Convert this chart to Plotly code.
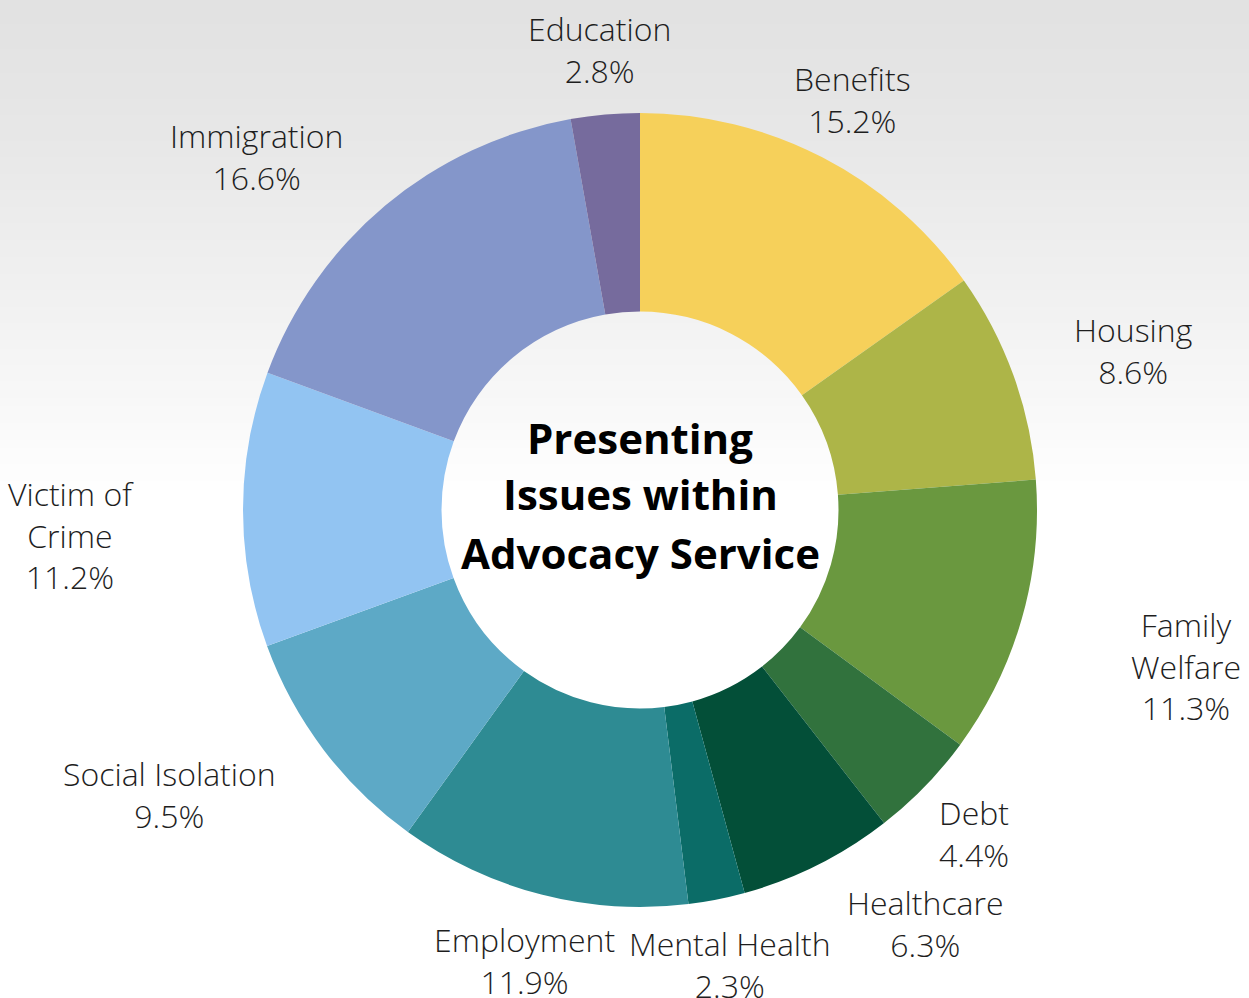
import math
import plotly.graph_objects as go

# ---- data ----
categories = ["Benefits", "Housing", "Family Welfare", "Debt", "Healthcare",
              "Mental Health", "Employment", "Social Isolation", "Victim of Crime",
              "Immigration", "Education"]
label_text = ["Benefits", "Housing", "Family<br>Welfare", "Debt", "Healthcare",
              "Mental Health", "Employment", "Social Isolation", "Victim of<br>Crime",
              "Immigration", "Education"]
values = [15.2, 8.6, 11.3, 4.4, 6.3, 2.3, 11.9, 9.5, 11.2, 16.6, 2.8]

# ---- style ----
colors = ["#F6D05A", "#ADB548", "#6A983F", "#31723D", "#034F38", "#0B6C67",
          "#2E8B93", "#5DA9C6", "#92C4F2", "#8496CA", "#766B9D"]
label_dist = [462, 519, 568, 465, 503, 463, 465, 550, 570, 521, 462]   # px from centre
label_nudge = [0, 2, 0, 0, -8, 0, 0, 6, -2.6, -7.4, 0]                 # degrees

W, H = 1249, 998
CX, CY, R = 640, 510, 397

fig = go.Figure()
fig.add_trace(go.Pie(
    labels=categories, values=values, hole=0.5, sort=False, direction="clockwise",
    rotation=0, textinfo="none", hoverinfo="label+percent",
    marker=dict(colors=colors, line=dict(color="white", width=0)),
    domain=dict(x=[(CX - R) / W, (CX + R) / W], y=[1 - (CY + R) / H, 1 - (CY - R) / H]),
    showlegend=False,
))

# background gradient
shapes = []
n = 60
top = 226
for i in range(n):
    y0 = i / n * 0.5
    y1 = (i + 1) / n * 0.5
    t = (i + 0.5) / n
    c = int(round(top + (255 - top) * t ** 1.3))
    shapes.append(dict(type="rect", xref="paper", yref="paper", x0=0, x1=1,
                       y0=1 - y1, y1=1 - y0 + 0.001, fillcolor=f"rgb({c},{c},{c})",
                       line=dict(width=0), layer="below"))

annotations = []
total = sum(values)
cum = 0
for lab, v, d, nd in zip(label_text, values, label_dist, label_nudge):
    mid = (cum + v / 2) / total * 360 + nd
    cum += v
    a = math.radians(mid)
    px = CX + d * math.sin(a)
    py = CY - d * math.cos(a)
    annotations.append(dict(
        x=px / W, y=1 - py / H, xref="paper", yref="paper", showarrow=False,
        text=f"{lab}<br>{v}%", xanchor="center", yanchor="middle", align="center",
        font=dict(family="Open Sans", size=32, color="#1e1e1e", weight=300)))

for txt, yy in [("Presenting", 437), ("Issues within", 494), ("Advocacy Service", 552)]:
    annotations.append(dict(
        x=CX / W, y=1 - yy / H, xref="paper", yref="paper", showarrow=False,
        text=txt, xanchor="center", yanchor="middle",
        font=dict(family="Open Sans", size=42, color="#000000", weight=700)))

fig.update_layout(
    width=W, height=H, margin=dict(l=0, r=0, t=0, b=0),
    paper_bgcolor="white", plot_bgcolor="white",
    shapes=shapes, annotations=annotations,
)
fig.write_html("out.html")
